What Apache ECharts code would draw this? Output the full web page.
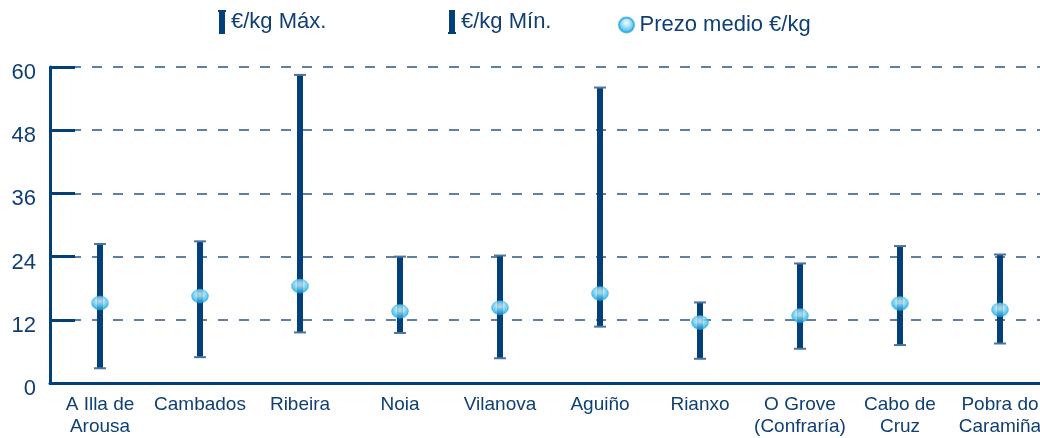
<!DOCTYPE html>
<html>
<head>
<meta charset="utf-8">
<script src="https://cdn.jsdelivr.net/npm/echarts@6/dist/echarts.min.js"></script>
<style>html,body{margin:0;padding:0;background:#fff;overflow:hidden;}#c{width:1050px;height:438px;}</style>
</head>
<body>
<div id="c"></div>
<script>
const categories = ['A Illa de\nArousa','Cambados','Ribeira','Noia','Vilanova','Aguiño','Rianxo','O Grove\n(Confraría)','Cabo de\nCruz','Pobra do\nCaramiña'];
const maxVals  = [26.4, 26.9, 58.5, 24.0, 24.2, 56.1, 15.3, 22.7, 26.0, 24.4];
const minVals  = [2.8, 4.9, 9.6, 9.5, 4.7, 10.7, 4.6, 6.5, 7.2, 7.5];
const meanVals = [15.2, 16.5, 18.4, 13.6, 14.3, 17.0, 11.5, 12.8, 15.1, 13.9];
const yTicks = [0, 12, 24, 36, 48, 60];

const DARK = '#033f78';
const CAP = '#4d73a0';
const TXT = '#0f3f73';
const FONT = 'Liberation Sans, Arial, sans-serif';

function whisker(endArr) {
  return function (params, api) {
    const i = api.value(0);
    const p1 = api.coord([i, meanVals[i]]);
    const p2 = api.coord([i, endArr[i]]);
    const x = p1[0];
    const yA = Math.min(p1[1], p2[1]);
    const yB = Math.max(p1[1], p2[1]);
    const capY = p2[1];
    return {
      type: 'group',
      children: [
        { type: 'rect', shape: { x: x - 3, y: yA, width: 6, height: yB - yA }, style: { fill: DARK } },
        { type: 'rect', shape: { x: x - 6, y: capY - 1, width: 12, height: 2 }, style: { fill: CAP } }
      ]
    };
  };
}

const chart = echarts.init(document.getElementById('c'));
const maxIcon = 'path://M0,0 L8,0 L8,2 L7,2 L7,24 L1,24 L1,2 L0,2 Z';
const minIcon = 'path://M1,0 L7,0 L7,22 L8,22 L8,24 L0,24 L0,22 L1,22 Z';
const legendText = { color: TXT, fontSize: 22, fontFamily: FONT };
chart.setOption({
  animation: false,
  legend: [
    { data: [{ name: '€/kg Máx.', icon: maxIcon }], left: 218, top: 10, itemWidth: 8, itemHeight: 24, padding: 0, textStyle: legendText, selectedMode: false },
    { data: [{ name: '€/kg Mín.', icon: minIcon }], left: 448, top: 10, itemWidth: 8, itemHeight: 24, padding: 0, textStyle: legendText, selectedMode: false },
    { data: [{ name: 'Prezo medio €/kg' }], left: 618, top: 14, itemWidth: 16, itemHeight: 15, padding: 0, textStyle: legendText, selectedMode: false }
  ],
  grid: { left: 50, right: 0, top: 67, bottom: 46 },
  xAxis: {
    type: 'category',
    data: categories,
    axisLine: { lineStyle: { color: DARK, width: 3 } },
    axisTick: { show: false },
    axisLabel: { color: TXT, fontSize: 19, fontFamily: FONT, lineHeight: 22, margin: 11, interval: 0 }
  },
  yAxis: {
    type: 'value',
    min: 0, max: 60, interval: 12,
    axisLine: { show: true, lineStyle: { color: DARK, width: 3 } },
    axisTick: { show: true, inside: true, length: 25, lineStyle: { color: DARK, width: 3 } },
    axisLabel: { color: TXT, fontSize: 22, fontFamily: FONT, margin: 14, verticalAlign: 'top', lineHeight: 12, formatter: v => yTicks.includes(v) ? String(v) : '' },
    splitLine: { show: true, lineStyle: { color: '#2d5785', width: 1.5, type: [10, 11] } }
  },
  series: [
    {
      name: '€/kg Máx.', type: 'custom', renderItem: whisker(maxVals),
      itemStyle: { color: DARK },
      data: categories.map((c, i) => [i, maxVals[i]]), z: 2
    },
    {
      name: '€/kg Mín.', type: 'custom', renderItem: whisker(minVals),
      itemStyle: { color: DARK },
      data: categories.map((c, i) => [i, minVals[i]]), z: 2
    },
    {
      name: 'Prezo medio €/kg', type: 'scatter', symbol: 'circle', symbolSize: [17, 14],
      data: meanVals,
      z: 5,
      itemStyle: {
        color: new echarts.graphic.RadialGradient(0.5, 0.38, 0.6, [
          { offset: 0, color: '#f2fbff' },
          { offset: 0.35, color: '#9fe0f8' },
          { offset: 0.75, color: '#35b8ea' },
          { offset: 1, color: '#1a9fd6' }
        ]),
        borderColor: '#2aa9df', borderWidth: 0.5
      }
    }
  ]
});
</script>
</body>
</html>
